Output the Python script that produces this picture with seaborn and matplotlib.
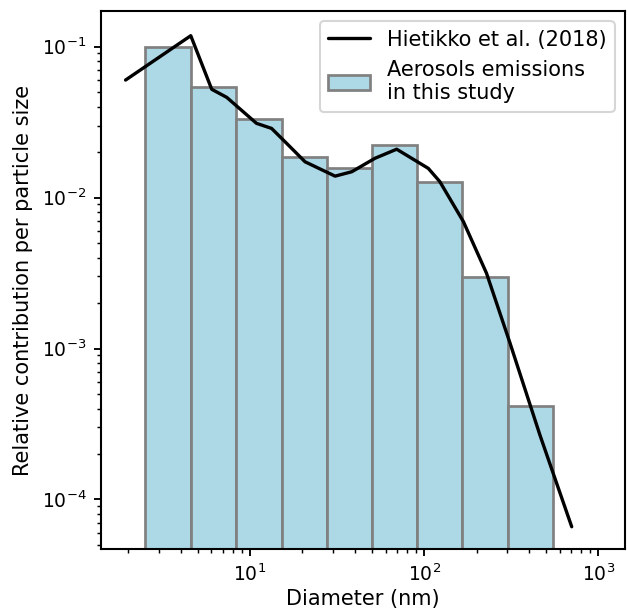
import numpy as np
import pandas as pd
import matplotlib
matplotlib.use("Agg")
import matplotlib.pyplot as plt
import seaborn as sns
from matplotlib.patches import Patch
from matplotlib.lines import Line2D

sns.set_style("ticks")
plt.rcParams["font.family"] = ["DejaVu Sans"]
plt.rcParams.update({
    "text.color": "black",
    "axes.labelcolor": "black",
    "xtick.color": "black",
    "ytick.color": "black",
    "axes.edgecolor": "black",
})

# Size-bin edges (nm) and relative contribution of each bin
bin_edges = [2.5, 4.57, 8.31, 15.2, 27.6, 50.0, 90.6, 165.5, 304.0, 551.0]
bin_values = [0.099, 0.0542, 0.0330, 0.0185, 0.0156, 0.0223, 0.0127, 0.00299, 0.000416]

# Reference size distribution (Hietikko et al., 2018)
ref_diameter = [1.93, 4.57, 6.03, 7.35, 10.9, 13.3, 16.2, 20.7, 30.8, 38.4,
                52.2, 69.5, 105.6, 123.0, 168.0, 228.0, 311.0, 462.0, 703.0]
ref_value = [0.060, 0.118, 0.0521, 0.0461, 0.0310, 0.0287, 0.0229, 0.01725,
             0.01386, 0.01482, 0.0182, 0.0209, 0.0156, 0.01274, 0.00692,
             0.00315, 0.001086, 0.000267, 6.6e-5]

edges = np.array(bin_edges)
centers = np.sqrt(edges[:-1] * edges[1:])
bins_df = pd.DataFrame({"diameter": centers, "value": bin_values})
ref_df = pd.DataFrame({"diameter": ref_diameter, "value": ref_value})

fig = plt.figure(figsize=(627 / 150, 616 / 150), dpi=150)
ax = fig.add_axes([101 / 627, 1 - 549 / 616, (625 - 101) / 627, (549 - 11) / 616])

# histogram bins are given in log10 space because of log_scale=True
sns.histplot(data=bins_df, x="diameter", weights="value",
             bins=[float(v) for v in np.log10(edges)],
             log_scale=True, color="lightblue", edgecolor="grey", linewidth=1.3,
             alpha=1, ax=ax)
sns.lineplot(data=ref_df, x="diameter", y="value", color="black", linewidth=1.6,
             ax=ax)

ax.set_xscale("log")
ax.set_yscale("log")
ax.set_xlim(1.395, 1422)
ax.set_ylim(4.7e-5, 0.172)
ax.set_xlabel("Diameter (nm)", fontsize=10, labelpad=2)
ax.set_ylabel("Relative contribution per particle size", fontsize=10)
ax.tick_params(which="major", labelsize=9, length=3.5, width=0.9, colors="black")
ax.tick_params(which="minor", length=2, width=0.7, colors="black")

for s in ax.spines.values():
    s.set_linewidth(1.0)
    s.set_color("black")
    s.set_visible(True)

handles = [
    Line2D([0], [0], color="black", linewidth=1.6),
    Patch(facecolor="lightblue", edgecolor="grey", linewidth=1.3),
]
ax.legend(handles, ["Hietikko et al. (2018)", "Aerosols emissions\nin this study"],
          loc="upper right", fontsize=10)

fig.savefig("out.png", dpi=150)
